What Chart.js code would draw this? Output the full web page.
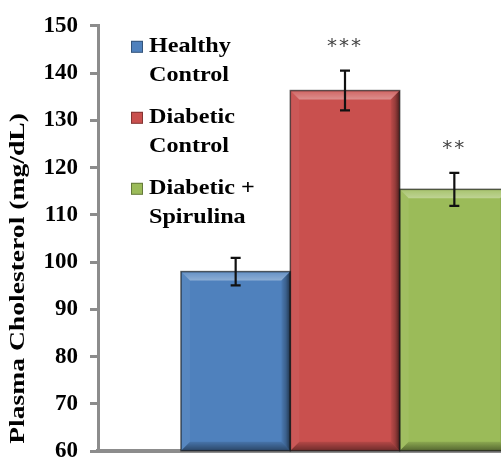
<!DOCTYPE html>
<html>
<head>
<meta charset="utf-8">
<script src="https://cdn.jsdelivr.net/npm/chart.js@4/dist/chart.umd.min.js"></script>
<style>
  html, body { margin: 0; padding: 0; background: #ffffff; overflow: hidden; }
  #wrap { position: absolute; left: 0; top: 0; width: 600px; height: 477px; }
</style>
</head>
<body>
<div id="wrap"><canvas id="chart" width="600" height="477"></canvas></div>
<script>
// Groups, their mean plasma cholesterol and error (mg/dL), and significance marks
const groups = ['Healthy Control', 'Diabetic Control', 'Diabetic + Spirulina'];
const legendLines = [['Healthy', 'Control'], ['Diabetic', 'Control'], ['Diabetic +', 'Spirulina']];
const means = [98.0, 136.3, 115.4];
const errors = [2.9, 4.2, 3.5];
const significance = ['', '***', '**'];
const colors = ['#4F81BD', '#C9504E', '#9BBB59'];
const yMin = 60, yMax = 150, yStep = 10;
const yTitle = 'Plasma Cholesterol (mg/dL)';

const SERIF = '"Liberation Serif", "Times New Roman", serif';
const STRETCH = 1.15;

// Bevelled look for each bar, then error bars and significance stars
const barDecor = {
  id: 'barDecor',
  afterDatasetsDraw(chart) {
    const ctx = chart.ctx;
    const yScale = chart.scales.y;
    chart.data.datasets.forEach((ds, di) => {
      const meta = chart.getDatasetMeta(di);
      meta.data.forEach((el) => {
        const p = el.getProps(['x', 'y', 'base', 'width'], true);
        const l = p.x - p.width / 2, r = p.x + p.width / 2, t = p.y, b = p.base;
        const bv = 9;
        ctx.save();
        const poly = (pts, fill) => {
          ctx.beginPath();
          ctx.moveTo(pts[0][0], pts[0][1]);
          for (let i = 1; i < pts.length; i++) ctx.lineTo(pts[i][0], pts[i][1]);
          ctx.closePath();
          ctx.fillStyle = fill;
          ctx.fill();
        };
        const tg = ctx.createLinearGradient(0, t, 0, t + bv);
        tg.addColorStop(0, 'rgba(255,255,255,0.12)');
        tg.addColorStop(1, 'rgba(255,255,255,0.36)');
        poly([[l, t], [r, t], [r - bv, t + bv], [l + bv, t + bv]], tg);
        poly([[l, t], [l + bv, t + bv], [l + bv, b - bv], [l, b]], 'rgba(255,255,255,0.05)');
        const rg = ctx.createLinearGradient(r - bv, 0, r, 0);
        rg.addColorStop(0, 'rgba(0,0,0,0.05)');
        rg.addColorStop(0.5, 'rgba(0,0,0,0.25)');
        rg.addColorStop(1, 'rgba(0,0,0,0.60)');
        poly([[r, t], [r - bv, t + bv], [r - bv, b - bv], [r, b]], rg);
        const bg = ctx.createLinearGradient(0, b - bv, 0, b);
        bg.addColorStop(0, 'rgba(0,0,0,0.10)');
        bg.addColorStop(1, 'rgba(0,0,0,0.45)');
        poly([[l, b], [l + bv, b - bv], [r - bv, b - bv], [r, b]], bg);
        ctx.strokeStyle = 'rgba(20,20,20,0.65)';
        ctx.lineWidth = 1.5;
        ctx.strokeRect(l, t, r - l, b - t);
        ctx.restore();

        // error bar
        const v = ds.data[0], e = errors[di];
        const yHi = yScale.getPixelForValue(v + e);
        const yLo = yScale.getPixelForValue(v - e);
        ctx.save();
        ctx.strokeStyle = '#111';
        ctx.lineWidth = 2.2;
        ctx.beginPath();
        ctx.moveTo(p.x, yHi); ctx.lineTo(p.x, yLo);
        ctx.moveTo(p.x - 5, yHi); ctx.lineTo(p.x + 5, yHi);
        ctx.moveTo(p.x - 5, yLo); ctx.lineTo(p.x + 5, yLo);
        ctx.stroke();
        // significance stars
        if (significance[di]) {
          ctx.fillStyle = '#444';
          ctx.font = '20px "DejaVu Sans", sans-serif';
          ctx.textAlign = 'center';
          ctx.textBaseline = 'middle';
          ctx.letterSpacing = '2px';
          ctx.fillText(significance[di], p.x, yHi - 24);
        }
        ctx.restore();
      });
    });
  }
};

// Two-line legend inside the plot area and the rotated axis title
const sideText = {
  id: 'sideText',
  afterDraw(chart) {
    const ctx = chart.ctx;
    const area = chart.chartArea;
    ctx.save();
    ctx.font = 'bold 21px ' + SERIF;
    ctx.fillStyle = '#000';
    ctx.textBaseline = 'middle';
    ctx.textAlign = 'left';
    chart.data.datasets.forEach((ds, i) => {
      const y0 = area.top + 21 + i * 71;
      const sx = area.left + 33;
      ctx.fillStyle = ds.backgroundColor;
      ctx.fillRect(sx, y0 - 6, 12, 12);
      ctx.strokeStyle = 'rgba(0,0,0,0.35)';
      ctx.lineWidth = 1;
      ctx.strokeRect(sx + 0.5, y0 - 5.5, 11, 11);
      ctx.fillStyle = '#000';
      legendLines[i].forEach((line, k) => {
        ctx.save();
        ctx.translate(sx + 18, y0 + k * 29);
        ctx.scale(STRETCH, 1);
        ctx.fillText(line, 0, 0);
        ctx.restore();
      });
    });
    // y-axis title
    ctx.save();
    ctx.translate(19, (area.top + area.bottom) / 2 + 40);
    ctx.rotate(-Math.PI / 2);
    ctx.scale(1.38, 1);
    ctx.font = 'bold 20px ' + SERIF;
    ctx.textAlign = 'center';
    ctx.fillStyle = '#000';
    ctx.fillText(yTitle, 0, 0);
    ctx.restore();
    ctx.restore();
  }
};

new Chart(document.getElementById('chart'), {
  type: 'bar',
  data: {
    labels: [''],
    datasets: groups.map((g, i) => ({
      label: g,
      data: [means[i]],
      base: yMin,
      backgroundColor: colors[i],
      borderWidth: 0,
      categoryPercentage: 0.664,
      barPercentage: 1.0
    }))
  },
  options: {
    responsive: false,
    animation: false,
    devicePixelRatio: 1,
    layout: { padding: { left: 0, right: 8, top: 24, bottom: 0 } },
    plugins: { legend: { display: false }, tooltip: { enabled: false } },
    scales: {
      x: {
        grid: { display: false },
        border: { display: true, color: '#8c8c8c', width: 4 },
        ticks: { display: false },
        afterFit(scale) { scale.height = 24; }
      },
      y: {
        min: yMin,
        max: yMax,
        ticks: {
          stepSize: yStep,
          color: '#000',
          padding: 12,
          font: { family: SERIF, size: 23, weight: 'bold' }
        },
        grid: {
          display: true,
          drawOnChartArea: false,
          drawTicks: true,
          tickLength: 8,
          tickWidth: 3,
          tickColor: '#8c8c8c',
          color: '#8c8c8c'
        },
        border: { display: true, color: '#8c8c8c', width: 3 },
        afterFit(scale) { scale.width = 98; }
      }
    }
  },
  plugins: [barDecor, sideText]
});
</script>
</body>
</html>
